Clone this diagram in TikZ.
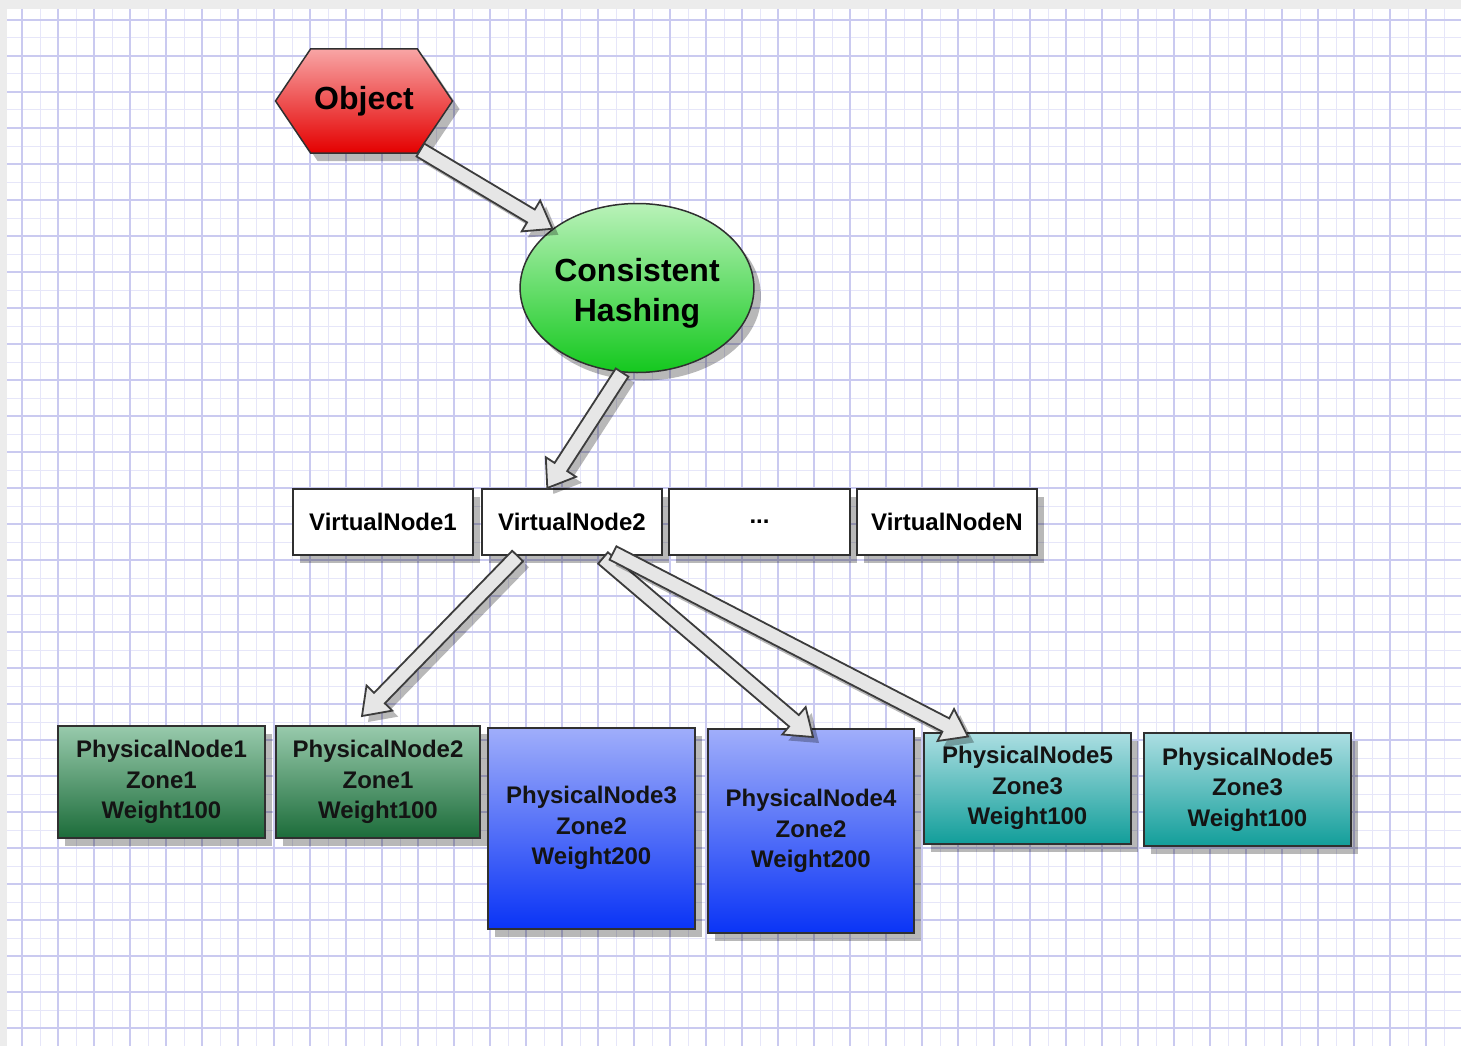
\documentclass[tikz,border=0pt]{standalone}
\usepackage{fontspec}
\setmainfont{Liberation Sans}
\usetikzlibrary{shapes.geometric,shapes.symbols,shadows,calc}

\definecolor{bandgrey}{RGB}{236,236,236}
\definecolor{gridmajor}{RGB}{202,202,240}
\definecolor{gridminor}{RGB}{230,230,249}
\definecolor{edgedark}{RGB}{48,48,48}
\definecolor{objtop}{RGB}{248,165,165}
\definecolor{objmid}{RGB}{240,45,45}
\definecolor{objbot}{RGB}{228,0,0}
\definecolor{chtop}{RGB}{185,242,185}
\definecolor{chmid}{RGB}{70,212,70}
\definecolor{chbot}{RGB}{20,200,30}
\definecolor{zoneonetop}{RGB}{152,202,172}
\definecolor{zoneonebot}{RGB}{28,108,58}
\definecolor{zonetwotop}{RGB}{160,174,250}
\definecolor{zonetwobot}{RGB}{10,52,246}
\definecolor{zonethreetop}{RGB}{172,222,226}
\definecolor{zonethreebot}{RGB}{18,158,154}
\definecolor{arrowfill}{RGB}{230,230,230}
\definecolor{arrowedge}{RGB}{60,60,60}

\tikzset{
  boxshadow/.style={drop shadow={shadow xshift=7pt, shadow yshift=-8pt, fill=black, opacity=0.28}},
  vnode/.style={rectangle, draw=edgedark, line width=2pt, fill=white,
    minimum width=180pt, minimum height=66pt, inner sep=0pt, boxshadow,
    font=\fontsize{24}{30}\selectfont\bfseries},
  pnode/.style={rectangle, draw=edgedark, line width=2pt, inner sep=0pt,
    align=center, boxshadow, text=black!92,
    font=\fontsize{24}{30.5}\selectfont\bfseries},
  zoneone/.style={pnode, top color=zoneonetop, bottom color=zoneonebot},
  zonetwo/.style={pnode, top color=zonetwotop, bottom color=zonetwobot},
  zonethree/.style={pnode, top color=zonethreetop, bottom color=zonethreebot},
  flowarrow/.style={fill=arrowfill, draw=arrowedge, line width=1.8pt, line join=miter,
    drop shadow={shadow xshift=6pt, shadow yshift=-6pt, fill=black, opacity=0.28}},
}

% block arrow between two points: shaft 15pt wide, head 36pt wide, 25pt long
\newcommand\blockarrow[2]{%
  \coordinate (ba-s) at (#1);
  \coordinate (ba-t) at (#2);
  \coordinate (ba-h) at ($(ba-t)!25pt!(ba-s)$);
  \draw[flowarrow]
    ($(ba-s)!7.5pt!90:(ba-t)$) -- ($(ba-h)!7.5pt!-90:(ba-s)$) --
    ($(ba-h)!18pt!-90:(ba-s)$) -- (ba-t) --
    ($(ba-h)!18pt!90:(ba-s)$) -- ($(ba-h)!7.5pt!90:(ba-s)$) --
    ($(ba-s)!7.5pt!-90:(ba-t)$) -- cycle;
}

\begin{document}
\begin{tikzpicture}[x=1pt,y=-1pt]
\useasboundingbox (0,0) rectangle (1461,1046);

% page background and squared paper
\fill[bandgrey] (0,0) rectangle (1461,1046);
\begin{scope}
  \clip (7,9) rectangle (1461,1046);
  \fill[white] (7,9) rectangle (1461,1046);
  \foreach \gx in {4,40,...,1460} \draw[gridminor, line width=1pt] (\gx,9) -- (\gx,1046);
  \foreach \gy in {2,38,...,1046} \draw[gridminor, line width=1pt] (7,\gy) -- (1461,\gy);
  \foreach \gx in {22,58,...,1460} \draw[gridmajor, line width=1.2pt] (\gx,9) -- (\gx,1046);
  \foreach \gy in {20,56,...,1046} \draw[gridmajor, line width=1.2pt] (7,\gy) -- (1461,\gy);
\end{scope}

% object and hashing function
\node (obj) [signal, signal to=west and east, signal pointer angle=112,
  minimum width=177pt, minimum height=104pt, inner sep=0pt,
  draw=edgedark, line width=1.5pt, top color=objtop, middle color=objmid, bottom color=objbot,
  boxshadow, font=\fontsize{32}{38}\selectfont\bfseries] at (364,101) {Object};

\node (ch) [ellipse, minimum width=231pt, minimum height=169pt, inner sep=0pt,
  draw=edgedark, line width=1.5pt, top color=chtop, middle color=chmid, bottom color=chbot,
  boxshadow, align=center, font=\fontsize{32}{39.5}\selectfont\bfseries]
  at (637,288) {\rule{0pt}{34pt}Consistent\\Hashing};

% virtual nodes
\node (vn1) [vnode] at (383,522) {VirtualNode1};
\node (vn2) [vnode] at (572,522) {VirtualNode2};
\node (vndots) [vnode, minimum width=181pt] at (759.5,522) {...};
\node (vnn) [vnode] at (947,522) {VirtualNodeN};

% physical nodes
\node (pn1) [zoneone, minimum width=207pt, minimum height=112pt] at (161.5,782)
  {PhysicalNode1\\Zone1\\Weight100};
\node (pn2) [zoneone, minimum width=204pt, minimum height=112pt] at (378,782)
  {PhysicalNode2\\Zone1\\Weight100};
\node (pn3) [zonetwo, minimum width=207pt, minimum height=201pt] at (591.5,828)
  {PhysicalNode3\\Zone2\\Weight200};
\node (pn4) [zonetwo, minimum width=206pt, minimum height=204pt] at (811,831)
  {PhysicalNode4\\Zone2\\Weight200};
\node (pn5a) [zonethree, minimum width=207pt, minimum height=111pt] at (1027.5,788)
  {PhysicalNode5\\Zone3\\Weight100};
\node (pn5b) [zonethree, minimum width=207pt, minimum height=113pt] at (1247.5,789.5)
  {PhysicalNode5\\Zone3\\Weight100};

% mapping arrows
\blockarrow{obj.-41}{ch.145}
\blockarrow{ch.-100}{vn2.126}
\blockarrow{vn2.-148}{$(pn2.north)+(-16,-9)$}
\blockarrow{$(vn2.south)+(31,2)$}{$(pn4.north)+(2,9)$}
\blockarrow{$(vn2.south)+(41,-3)$}{$(pn5a.north)+(-59.5,5)$}
\end{tikzpicture}
\end{document}
